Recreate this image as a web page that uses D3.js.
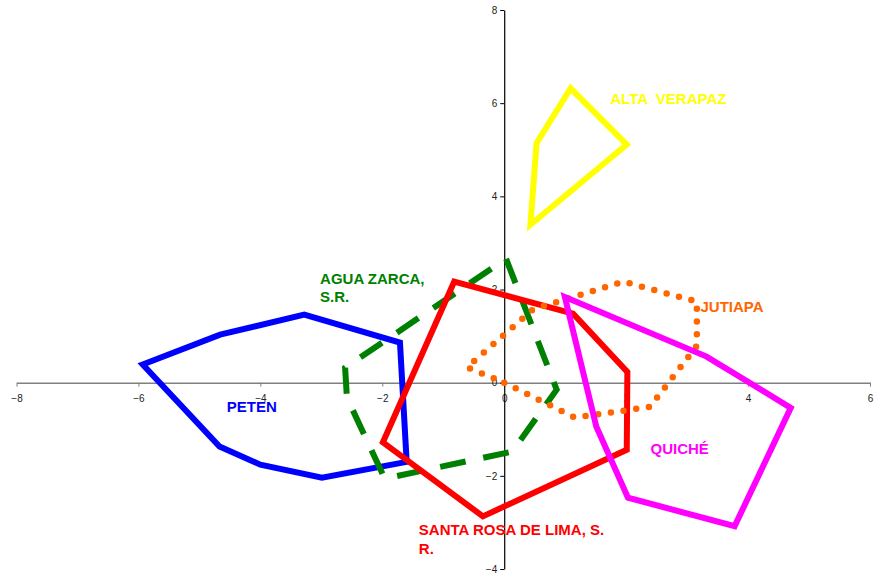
<!DOCTYPE html>
<html>
<head>
<meta charset="utf-8">
<script src="https://cdn.jsdelivr.net/npm/d3@7"></script>
<style>
body { margin: 0; background: #fff; }
svg { display: block; }
.tick text { font-family: "Liberation Sans", Arial, sans-serif; font-size: 10px; fill: #222; }
.lbl { font-family: "Liberation Sans", Arial, sans-serif; font-size: 15px; font-weight: bold; white-space: pre; }
</style>
</head>
<body>
<svg></svg>
<script>
// tick values
var xTicks = [-8, -6, -4, -2, 0, 2, 4, 6];
var yTicks = [-4, -2, 0, 2, 4, 6, 8];

// polygon vertices, [x, y]
var peten = [[-5.93, 0.39], [-4.66, 1.03], [-3.28, 1.46], [-1.71, 0.86], [-1.60, -1.70], [-2.99, -2.04], [-4.00, -1.76], [-4.67, -1.37]];
var aguaZarca = [[-2.61, 0.32], [-2.58, -0.32], [-1.96, -2.06], [0.13, -1.48], [0.86, -0.15], [0.03, 2.66]];
var santaRosa = [[-0.82, 2.17], [1.13, 1.48], [2.02, 0.23], [2.01, -1.44], [-0.35, -2.87], [-1.99, -1.28]];
var jutiapa = [[0, 0], [1.16, -0.75], [2.39, -0.52], [3.16, 0.79], [3.16, 1.74], [1.95, 2.17], [0.47, 1.57], [-0.61, 0.33]];
var quiche = [[0.995, 1.84], [3.32, 0.56], [4.70, -0.54], [3.78, -3.08], [2.03, -2.47], [1.51, -0.94]];
var altaVerapaz = [[1.09, 6.32], [2.01, 5.11], [0.43, 3.39], [0.53, 5.14]];

var regions = [
    {name: 'PETEN', pts: peten, color: '#0000FF', dash: null},
    {name: 'AGUA ZARCA', pts: aguaZarca, color: '#008000', dash: '26 18'},
    {name: 'SANTA ROSA', pts: santaRosa, color: '#FF0000', dash: null},
    {name: 'JUTIAPA', pts: jutiapa, color: '#FF6600', dash: '0 12.8'},
    {name: 'QUICHE', pts: quiche, color: '#FF00FF', dash: null},
    {name: 'ALTA VERAPAZ', pts: altaVerapaz, color: '#FFFF00', dash: null}
];

// label text, anchor in data units
var labels = [
    {lines: ['ALTA  VERAPAZ'], x: 1.74, y: 5.98, color: '#FFFF00'},
    {lines: ['JUTIAPA'], x: 3.22, y: 1.51, color: '#FF6600'},
    {lines: ['QUICHÉ'], x: 2.40, y: -1.53, color: '#FF00FF'},
    {lines: ['PETEN'], x: -4.55, y: -0.64, color: '#0000FF'},
    {lines: ['AGUA ZARCA,', 'S.R.'], x: -3.02, y: 2.12, color: '#008000'},
    {lines: ['SANTA ROSA DE LIMA, S.', 'R.'], x: -1.40, y: -3.28, color: '#FF0000'}
];

var svgWidth = 875, svgHeight = 576;

var svg = d3.select('svg')
    .attr('width', svgWidth)
    .attr('height', svgHeight);

var x = d3.scaleLinear().domain([-8, 6]).range([16.5, 870]);
var y = d3.scaleLinear().domain([-4, 8]).range([569, 10]);

var xAxis = svg.append('g')
    .attr('transform', 'translate(0,' + y(0) + ')')
    .call(d3.axisBottom(x).tickValues(xTicks).tickSize(4).tickSizeOuter(0).tickPadding(8));
xAxis.select('.domain').attr('stroke', '#808080').attr('stroke-width', 1.5);
xAxis.selectAll('.tick line').attr('stroke', '#808080');

var yAxis = svg.append('g')
    .attr('transform', 'translate(' + x(0) + ',0)')
    .call(d3.axisLeft(y).tickValues(yTicks).tickSize(4).tickSizeOuter(0).tickPadding(3));
yAxis.select('.domain').attr('stroke', '#000').attr('stroke-width', 1.2);
yAxis.selectAll('.tick line').attr('stroke', '#000');

var line = d3.line()
    .x(function(d) { return x(d[0]); })
    .y(function(d) { return y(d[1]); })
    .curve(d3.curveLinearClosed);

svg.selectAll('path.region')
    .data(regions)
    .enter()
    .append('path')
    .attr('class', 'region')
    .attr('d', function(d) { return line(d.pts); })
    .attr('fill', 'none')
    .attr('stroke', function(d) { return d.color; })
    .attr('stroke-width', function(d) { return d.name === 'JUTIAPA' ? 6.5 : 6; })
    .attr('stroke-linejoin', 'miter')
    .attr('stroke-linecap', function(d) { return d.name === 'JUTIAPA' ? 'round' : 'butt'; })
    .attr('stroke-dasharray', function(d) { return d.dash; });

var text = svg.selectAll('text.lbl')
    .data(labels)
    .enter()
    .append('text')
    .attr('class', 'lbl')
    .attr('x', function(d) { return x(d.x); })
    .attr('y', function(d) { return y(d.y); })
    .attr('fill', function(d) { return d.color; });

text.selectAll('tspan')
    .data(function(d) { return d.lines.map(function(l) { return {t: l, x: x(d.x)}; }); })
    .enter()
    .append('tspan')
    .attr('x', function(d) { return d.x; })
    .attr('dy', function(d, i) { return i === 0 ? 0 : 18.5; })
    .text(function(d) { return d.t; });
</script>
</body>
</html>
